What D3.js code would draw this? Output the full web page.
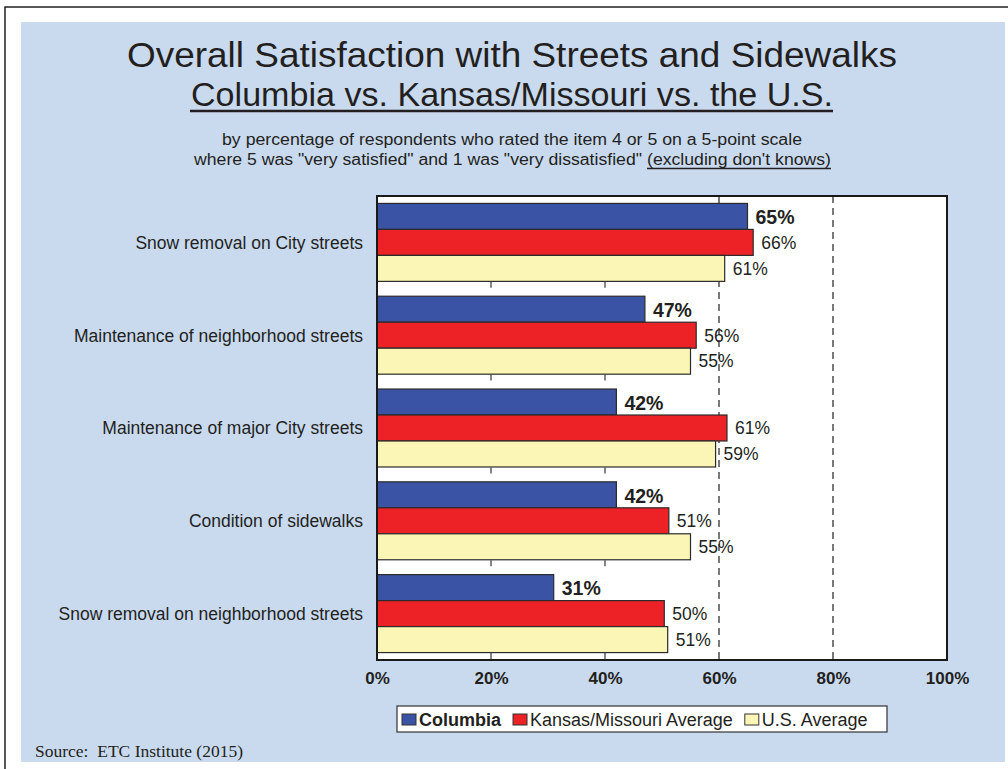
<!DOCTYPE html>
<html>
<head>
<meta charset="utf-8">
<script src="https://cdn.jsdelivr.net/npm/d3@7"></script>
<style>
  body { margin: 0; background: #fff; }
  text { font-family: "Liberation Sans", Arial, sans-serif; fill: #231f20; }
</style>
</head>
<body>
<script>
var width = 1008,
    height = 769;

// data
var categories = [
    "Snow removal on City streets",
    "Maintenance of neighborhood streets",
    "Maintenance of major City streets",
    "Condition of sidewalks",
    "Snow removal on neighborhood streets"
];
var seriesNames = ["Columbia", "Kansas/Missouri Average", "U.S. Average"];
var columbia = [65, 47, 42, 42, 31];
var kansasMissouri = [66, 56, 61.4, 51.2, 50.4];
var usAverage = [61, 55, 59.4, 55, 51];
var tickValues = [0, 20, 40, 60, 80, 100];

var seriesColors = ["#3a53a4", "#ec2227", "#fbf6b5"];
var allSeries = [columbia, kansasMissouri, usAverage];

var svg = d3.select("body").append("svg")
    .attr("width", width)
    .attr("height", height);

// page frame + light blue panel
svg.append("rect").attr("x", 0).attr("y", 0).attr("width", width).attr("height", height).attr("fill", "#fff");
svg.append("path")
    .attr("d", "M5,769L5,7L1008,7")
    .attr("fill", "none")
    .attr("stroke", "#222")
    .attr("stroke-width", 1.5);
svg.append("rect")
    .attr("x", 21).attr("y", 22)
    .attr("width", 984).attr("height", 740)
    .attr("fill", "#c9daef");

// titles
function fitText(x, y, str, size, len, weight) {
    return svg.append("text")
        .attr("x", x).attr("y", y)
        .attr("text-anchor", "middle")
        .attr("font-size", size)
        .attr("font-weight", weight || "normal")
        .attr("textLength", len)
        .attr("lengthAdjust", "spacingAndGlyphs")
        .text(str);
}
fitText(512, 67, "Overall Satisfaction with Streets and Sidewalks", 35, 770);
fitText(512, 106, "Columbia vs. Kansas/Missouri vs. the U.S.", 34, 642);
svg.append("line")
    .attr("x1", 190).attr("x2", 833)
    .attr("y1", 111).attr("y2", 111)
    .attr("stroke", "#231f20").attr("stroke-width", 2.5);

fitText(512, 145, "by percentage of respondents who rated the item 4 or 5 on a 5-point scale", 16, 580);
svg.append("text")
    .attr("x", 194).attr("y", 165)
    .attr("font-size", 16)
    .attr("textLength", 448).attr("lengthAdjust", "spacingAndGlyphs")
    .text("where 5 was \"very satisfied\" and 1 was \"very dissatisfied\"");
svg.append("text")
    .attr("x", 647).attr("y", 165)
    .attr("font-size", 16)
    .attr("textLength", 184).attr("lengthAdjust", "spacingAndGlyphs")
    .text("(excluding don't knows)");
svg.append("line")
    .attr("x1", 647).attr("x2", 831)
    .attr("y1", 168.5).attr("y2", 168.5)
    .attr("stroke", "#231f20").attr("stroke-width", 1.5);

// scales
var plotLeft = 377, plotRight = 947, plotTop = 196, plotBottom = 660;

var x = d3.scaleLinear()
    .domain([0, 100])
    .range([plotLeft, plotRight]);

var y = d3.scaleBand()
    .domain(categories)
    .range([plotTop, plotBottom])
    .paddingInner(0.16)
    .paddingOuter(0.08);

var ySub = d3.scaleBand()
    .domain(seriesNames)
    .range([0, y.bandwidth()]);

// plot area
svg.append("rect")
    .attr("x", plotLeft).attr("y", plotTop)
    .attr("width", plotRight - plotLeft).attr("height", plotBottom - plotTop)
    .attr("fill", "#fff");

// dashed gridlines at 60 and 80
svg.selectAll(".grid")
    .data([60, 80])
    .enter().append("line")
    .attr("class", "grid")
    .attr("x1", function (d) { return x(d); })
    .attr("x2", function (d) { return x(d); })
    .attr("y1", plotTop).attr("y2", plotBottom)
    .attr("stroke", "#333")
    .attr("stroke-width", 1.3)
    .attr("stroke-dasharray", "7,5");

// short ticks at 20 and 40 in the gaps below each group
var step = y.step(),
    outer = y.paddingOuter() * step;
var tickData = [];
categories.forEach(function (c) {
    [20, 40].forEach(function (t) {
        tickData.push({ t: t, yb: y(c) + y.bandwidth() + outer });
    });
});
svg.selectAll(".minor")
    .data(tickData)
    .enter().append("line")
    .attr("class", "minor")
    .attr("x1", function (d) { return x(d.t); })
    .attr("x2", function (d) { return x(d.t); })
    .attr("y1", function (d) { return d.yb - 7; })
    .attr("y2", function (d) { return d.yb - 1; })
    .attr("stroke", "#444")
    .attr("stroke-width", 1.3);

// bars
var barData = [];
categories.forEach(function (c, i) {
    seriesNames.forEach(function (s, j) {
        barData.push({ cat: c, series: s, idx: j, value: allSeries[j][i] });
    });
});

var bars = svg.selectAll(".bar")
    .data(barData)
    .enter().append("rect")
    .attr("class", "bar")
    .attr("x", x(0))
    .attr("y", function (d) { return y(d.cat) + ySub(d.series); })
    .attr("width", function (d) { return x(d.value) - x(0); })
    .attr("height", ySub.bandwidth())
    .attr("fill", function (d) { return seriesColors[d.idx]; })
    .attr("stroke", "#2b2b2b")
    .attr("stroke-width", 1.2);

// value labels
svg.selectAll(".val")
    .data(barData)
    .enter().append("text")
    .attr("class", "val")
    .attr("x", function (d) { return x(d.value) + 8; })
    .attr("y", function (d) { return y(d.cat) + ySub(d.series) + ySub.bandwidth() / 2; })
    .attr("dy", function (d) { return d.idx == 0 ? "0.40em" : "0.36em"; })
    .attr("font-size", function (d) { return d.idx == 0 ? 19.5 : 17.5; })
    .attr("font-weight", function (d) { return d.idx == 0 ? "bold" : "normal"; })
    .text(function (d) { return Math.round(d.value) + "%"; });

// plot border
svg.append("rect")
    .attr("x", plotLeft).attr("y", plotTop)
    .attr("width", plotRight - plotLeft).attr("height", plotBottom - plotTop)
    .attr("fill", "none")
    .attr("stroke", "#1a1a1a")
    .attr("stroke-width", 2);

// category labels
svg.selectAll(".cat")
    .data(categories)
    .enter().append("text")
    .attr("class", "cat")
    .attr("x", 363)
    .attr("y", function (d) { return y(d) + y.bandwidth() / 2; })
    .attr("dy", "0.36em")
    .attr("text-anchor", "end")
    .attr("font-size", 17.5)
    .text(function (d) { return d; });

// x axis
var xAxis = d3.axisBottom(x)
    .tickValues(tickValues)
    .tickSize(0)
    .tickPadding(12)
    .tickFormat(function (d) { return d + "%"; });

var gx = svg.append("g")
    .attr("transform", "translate(0," + plotBottom + ")")
    .call(xAxis);
gx.select(".domain").remove();
gx.selectAll("text")
    .attr("font-size", 17)
    .attr("font-weight", "bold")
    .attr("font-family", "Liberation Sans, Arial, sans-serif")
    .attr("fill", "#231f20");

// legend
var legend = svg.append("g");
legend.append("rect")
    .attr("x", 397).attr("y", 706)
    .attr("width", 490).attr("height", 26)
    .attr("fill", "#fff")
    .attr("stroke", "#333")
    .attr("stroke-width", 1.2);

var lx = 402;
seriesNames.forEach(function (s, j) {
    legend.append("rect")
        .attr("x", lx).attr("y", 714)
        .attr("width", 14).attr("height", 11)
        .attr("fill", seriesColors[j])
        .attr("stroke", "#333")
        .attr("stroke-width", 1);
    var t = legend.append("text")
        .attr("x", lx + 17).attr("y", 725.5)
        .attr("font-size", 18)
        .attr("font-weight", j == 0 ? "bold" : "normal")
        .text(s);
    lx = lx + 17 + t.node().getComputedTextLength() + 12;
});

// source note
svg.append("text")
    .attr("x", 35).attr("y", 757)
    .attr("font-size", 17.5)
    .style("font-family", "'Liberation Serif', 'Times New Roman', serif")
    .attr("xml:space", "preserve")
    .text("Source:  ETC Institute (2015)");
</script>
</body>
</html>
